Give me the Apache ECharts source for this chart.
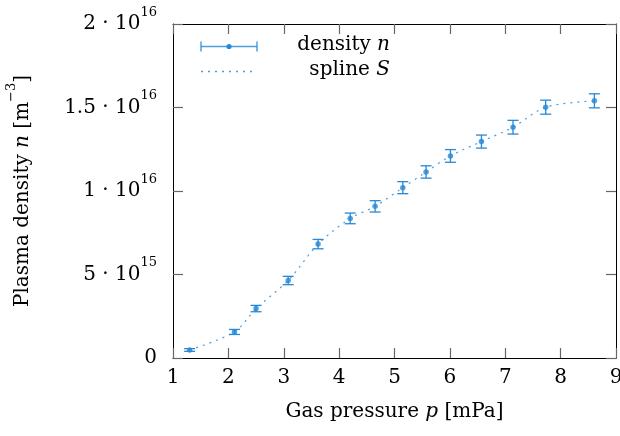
<!DOCTYPE html>
<html>
<head>
<meta charset="utf-8">
<script src="https://cdn.jsdelivr.net/npm/echarts@6/dist/echarts.min.js"></script>
<style>
html,body{margin:0;padding:0;background:#fff;}
#chart{width:620px;height:436px;}
</style>
</head>
<body>
<div id="chart"></div>
<script>
// ---- data ----
const pressure = [1.30, 2.11, 2.50, 3.08, 3.62, 4.20, 4.65, 5.15, 5.57, 6.01, 6.57, 7.14, 7.73, 8.61];
const density = [0.48e15, 1.56e15, 2.96e15, 4.64e15, 6.82e15, 8.36e15, 9.08e15, 10.2e15, 11.14e15, 12.1e15, 12.96e15, 13.82e15, 15.02e15, 15.40e15];
const densityErr = [0.08e15, 0.15e15, 0.19e15, 0.25e15, 0.28e15, 0.32e15, 0.34e15, 0.36e15, 0.37e15, 0.38e15, 0.39e15, 0.41e15, 0.42e15, 0.42e15];
const xTickLabels = ['1', '2', '3', '4', '5', '6', '7', '8', '9'];
const yTickMant = ['0', '5', '1', '1.5', '2'];
const yTickExp = ['', '15', '16', '16', '16'];
const legendNames = ['density', 'spline'];
const legendSymbols = ['n', 'S'];

const FONT = 'DejaVu Serif';
const BLUE = '#2788d6';
const LIGHT = '#4a9fe0';

const pts = pressure.map((p, i) => [p, density[i], densityErr[i]]);
const line = pressure.map((p, i) => [p, density[i]]);

const chart = echarts.init(document.getElementById('chart'), null, {renderer: 'canvas'});

const tickStyle = {show: true, inside: true, length: 10, lineStyle: {color: '#666', width: 1.2}};
const axLine = {show: true, onZero: false, lineStyle: {color: '#000', width: 1}};

const supRich = {
  m: {fontFamily: FONT, fontSize: 20, color: '#000', lineHeight: 36},
  s: {fontFamily: FONT, fontSize: 13, color: '#000', lineHeight: 13, verticalAlign: 'top'},
  i: {fontFamily: FONT, fontSize: 20, color: '#000', fontStyle: 'italic', lineHeight: 36}
};

chart.setOption({
  animation: false,
  backgroundColor: '#fff',
  grid: {left: 173, right: 4, top: 24, bottom: 78, show: false, containLabel: false, outerBoundsMode: 'none'},
  xAxis: [{
    type: 'value', min: 1, max: 9, interval: 1, position: 'bottom',
    axisLine: axLine, axisTick: tickStyle, splitLine: {show: false},
    axisLabel: {
      margin: 10, fontFamily: FONT, fontSize: 20, color: '#000',
      formatter: (v) => xTickLabels[Math.round(v) - 1]
    },
    name: '{r|Gas pressure }{i|p}{r| [mPa]}',
    nameLocation: 'middle', nameGap: 44,
    nameTextStyle: {
      rich: {
        r: {fontFamily: FONT, fontSize: 20, color: '#000'},
        i: {fontFamily: FONT, fontSize: 20, color: '#000', fontStyle: 'italic'}
      }
    }
  }, {
    type: 'value', min: 1, max: 9, interval: 1, position: 'top',
    axisLine: axLine, axisTick: tickStyle, axisLabel: {show: false}, splitLine: {show: false}
  }],
  yAxis: [{
    type: 'value', min: 0, max: 2e16, interval: 5e15, position: 'left',
    axisLine: axLine, axisTick: tickStyle, splitLine: {show: false},
    axisLabel: {
      margin: 16,
      formatter: (v) => {
        const k = Math.round(v / 5e15);
        return yTickExp[k] ? `{m|${yTickMant[k]} · 10}{s|${yTickExp[k]}}` : `{m|${yTickMant[k]}}`;
      },
      rich: supRich
    },
    name: '{m|Plasma density }{i|n}{m| [m}{s|−3}{m|]}',
    nameLocation: 'middle', nameGap: 132, nameRotate: 90,
    nameTextStyle: {rich: supRich}
  }, {
    type: 'value', min: 0, max: 2e16, interval: 5e15, position: 'right',
    axisLine: axLine, axisTick: tickStyle, axisLabel: {show: false}, splitLine: {show: false}
  }],
  series: [{
    name: 'spline', type: 'line', data: line, smooth: 0.3,
    showSymbol: false, symbol: 'none', z: 1,
    lineStyle: {color: LIGHT, width: 1.2, type: [2, 5]}
  }, {
    name: 'errors', type: 'custom', data: pts, z: 2,
    renderItem: (params, api) => {
      const x = api.value(0), y = api.value(1), e = api.value(2);
      const t = api.coord([x, y + e]);
      const b = api.coord([x, y - e]);
      const hw = 5.5;
      const st = {stroke: BLUE, lineWidth: 1.3};
      return {
        type: 'group', children: [
          {type: 'line', shape: {x1: t[0], y1: t[1], x2: b[0], y2: b[1]}, style: st},
          {type: 'line', shape: {x1: t[0] - hw, y1: t[1], x2: t[0] + hw, y2: t[1]}, style: st},
          {type: 'line', shape: {x1: b[0] - hw, y1: b[1], x2: b[0] + hw, y2: b[1]}, style: st}
        ]
      };
    }
  }, {
    name: 'density', type: 'scatter', data: line, symbol: 'circle', symbolSize: 5.5, z: 3,
    itemStyle: {color: BLUE}
  }],
  graphic: [
    {type: 'line', shape: {x1: 201, y1: 46.5, x2: 257, y2: 46.5}, style: {stroke: LIGHT, lineWidth: 1.5}},
    {type: 'line', shape: {x1: 201, y1: 41.5, x2: 201, y2: 51.5}, style: {stroke: BLUE, lineWidth: 1.2}},
    {type: 'line', shape: {x1: 257, y1: 41.5, x2: 257, y2: 51.5}, style: {stroke: BLUE, lineWidth: 1.2}},
    {type: 'circle', shape: {cx: 229, cy: 46.5, r: 2.6}, style: {fill: BLUE}},
    {type: 'text', x: 390, y: 45, style: {
      text: `{r|${legendNames[0]} }{i|${legendSymbols[0]}}`, align: 'right', verticalAlign: 'middle',
      rich: {
        r: {fontFamily: FONT, fontSize: 20, fill: '#000'},
        i: {fontFamily: FONT, fontSize: 20, fill: '#000', fontStyle: 'italic'}
      }
    }},
    {type: 'line', shape: {x1: 201, y1: 71.5, x2: 257, y2: 71.5}, style: {stroke: LIGHT, lineWidth: 1.3, lineDash: [2, 5]}},
    {type: 'text', x: 390, y: 70, style: {
      text: `{r|${legendNames[1]} }{i|${legendSymbols[1]}}`, align: 'right', verticalAlign: 'middle',
      rich: {
        r: {fontFamily: FONT, fontSize: 20, fill: '#000'},
        i: {fontFamily: FONT, fontSize: 20, fill: '#000', fontStyle: 'italic'}
      }
    }}
  ]
});
</script>
</body>
</html>
